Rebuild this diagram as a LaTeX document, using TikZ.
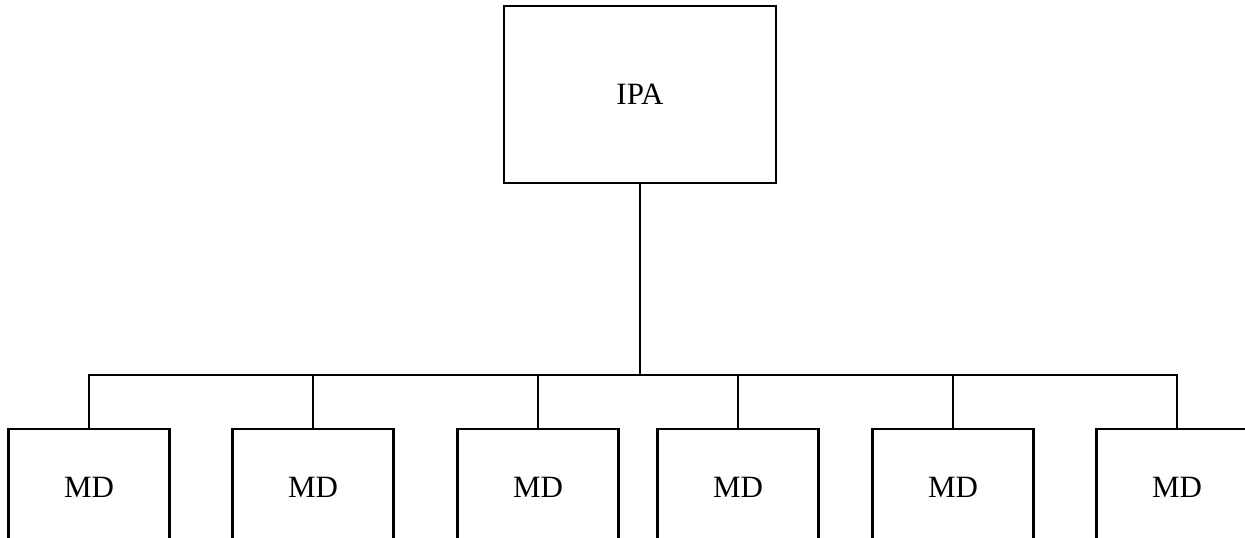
\documentclass[tikz,border=0pt]{standalone}
\usepackage{fontspec}
\setmainfont{Liberation Serif}
\usetikzlibrary{positioning}

\tikzset{
	unitbox/.style={draw,line width=2.2pt,fill=white,font=\fontsize{31}{36}\selectfont},
	mdbox/.style={unitbox,minimum width=161pt,minimum height=116pt,inner sep=0pt},
	ipabox/.style={unitbox,minimum width=272pt,minimum height=177pt,inner sep=0pt},
	link/.style={line width=2.2pt}
}

\begin{document}
\begin{tikzpicture}[x=1pt,y=-1pt]
		\clip (0,0) rectangle (1245,538);
		\fill[white] (0,0) rectangle (1245,538);
		\node[ipabox] (ipa) at (640,94.5){IPA};
		\node[mdbox] (md1) at (89,487){MD};
		\node[mdbox] (md2) at (313,487){MD};
		\node[mdbox] (md3) at (538,487){MD};
		\node[mdbox] (md4) at (738,487){MD};
		\node[mdbox] (md5) at (953,487){MD};
		\node[mdbox] (md6) at (1177,487){MD};
		\coordinate (bus) at (640,375);
		\draw[link] (ipa.south)--(bus);
		\draw[link] (md1.north)|-(bus)-|(md6.north);
		\draw[link] (md2.north)--(md2.north |- bus);
		\draw[link] (md3.north)--(md3.north |- bus);
		\draw[link] (md4.north)--(md4.north |- bus);
		\draw[link] (md5.north)--(md5.north |- bus);
	\end{tikzpicture}
\end{document}
